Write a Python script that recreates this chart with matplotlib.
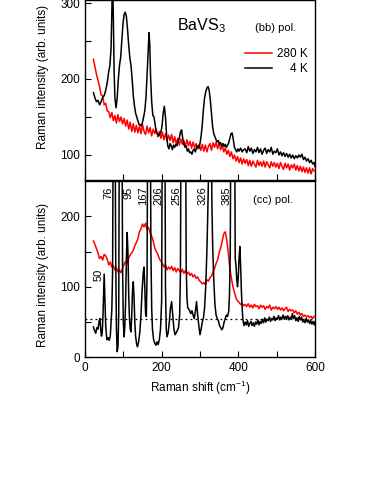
import numpy as np
import matplotlib
matplotlib.use("Agg")
import matplotlib.pyplot as plt
from matplotlib.ticker import MultipleLocator

plt.rcParams['font.family'] = ['Liberation Sans', 'DejaVu Sans']
plt.rcParams['mathtext.fontset'] = 'custom'
plt.rcParams['mathtext.rm'] = 'Liberation Sans'
plt.rcParams['mathtext.it'] = 'Liberation Sans:italic'
plt.rcParams['mathtext.default'] = 'regular'

# ---- (bb) polarisation, 280 K (sampled every 4 cm-1 from 22 to 598)
bb_hot_x = np.arange(22, 599, 4)
bb_hot_y = [
    226, 216, 206, 198, 190, 179, 178, 166, 168, 158,
    157, 149, 156, 145, 152, 142, 153, 144, 150, 141,
    148, 138, 146, 134, 143, 131, 141, 130, 139, 129,
    138, 128, 140, 131, 127, 138, 129, 136, 125, 134,
    128, 134, 124, 131, 122, 130, 120, 128, 119, 126,
    119, 127, 116, 124, 115, 122, 113, 121, 114, 119,
    111, 120, 112, 118, 109, 117, 110, 115, 108, 114,
    106, 114, 105, 113, 104, 111, 115, 106, 116, 110,
    117, 108, 116, 107, 113, 104, 109, 101, 106, 98,
    104, 95, 100, 92, 98, 90, 96, 88, 95, 89,
    94, 86, 93, 85, 92, 88, 84, 93, 86, 91,
    85, 92, 84, 91, 87, 83, 91, 85, 90, 84,
    89, 82, 90, 85, 81, 89, 83, 88, 80, 87,
    83, 88, 80, 86, 79, 85, 78, 84, 77, 83,
    76, 83, 75, 82, 79,
]

# ---- (bb) polarisation, 4 K
bb_cold_x = [
    22, 26, 30, 34, 38, 42, 46, 50, 54, 58, 62, 65, 68, 70, 72, 74, 76, 78,
    81, 84, 87, 90, 93, 96, 99, 102, 105, 108, 111, 114, 117, 120, 123, 126,
    129, 132, 135, 138, 141, 144, 147, 150, 153, 156, 159, 162, 165, 167,
    169, 171, 174, 177, 180, 183, 186, 189, 192, 195, 198, 201, 204, 207,
    210, 213, 216, 219, 222, 225, 228, 231, 234, 237, 240, 243, 246, 249,
    252, 255, 258, 261, 264, 267, 270, 273, 276, 279, 282, 285, 288, 291,
    294, 297, 300, 303, 306, 309, 312, 315, 318, 321, 324, 327, 330, 333,
    336, 339, 342, 345, 348, 351, 354, 357, 360, 363, 366, 369, 372, 375,
    378, 381, 384, 387, 390, 393, 396, 399, 402, 406, 410, 414, 418, 422,
    426, 430, 434, 438, 442, 446, 450, 454, 458, 462, 466, 470, 474, 478,
    482, 486, 490, 494, 498, 502, 506, 510, 514, 518, 522, 526, 530, 534,
    538, 542, 546, 550, 554, 558, 562, 566, 570, 574, 578, 582, 586, 590,
    594, 598, 600,
]
bb_cold_y = [
    182, 175, 170, 172, 166, 170, 176, 178, 185, 195, 210, 218, 240, 290, 330, 280, 210, 175,
    162, 175, 200, 218, 228, 250, 272, 285, 288, 282, 265, 245, 228, 218, 200, 178,
    165, 155, 150, 145, 140, 140, 138, 143, 150, 158, 175, 205, 240, 261,
    245, 205, 170, 152, 150, 140, 130, 128, 125, 128, 130, 138, 155, 164,
    150, 125, 112, 108, 115, 112, 107, 113, 110, 114, 112, 118, 122, 130,
    133, 122, 114, 110, 112, 105, 108, 103, 104, 101, 106, 108, 104, 110,
    112, 109, 115, 125, 140, 160, 175, 183, 188, 190, 185, 172, 155, 137,
    128, 124, 120, 117, 119, 114, 116, 112, 115, 111, 114, 110, 113, 116,
    122, 128, 129, 120, 110, 107, 104, 108, 105, 109, 104, 107, 108, 103,
    111, 105, 109, 102, 107, 104, 110, 103, 108, 101, 106, 109, 102, 107,
    104, 110, 101, 105, 103, 108, 100, 104, 99, 103, 98, 102, 97, 101,
    96, 100, 95, 99, 96, 100, 97, 101, 94, 97, 92, 95, 90, 93,
    88, 90, 85,
]

# ---- (cc) polarisation, 280 K (sampled every 4 cm-1 from 22 to 598)
cc_hot_x = np.arange(22, 599, 4)
cc_hot_y = [
    165, 160, 154, 148, 140, 143, 138, 146, 144, 139,
    131, 135, 128, 130, 124, 127, 121, 124, 120, 126,
    132, 136, 133, 141, 145, 148, 152, 158, 163, 168,
    178, 182, 189, 185, 190, 181, 184, 176, 172, 165,
    155, 150, 146, 140, 136, 133, 128, 131, 124, 128,
    125, 129, 123, 127, 121, 126, 123, 120, 125, 119,
    123, 118, 121, 116, 119, 114, 117, 112, 114, 109,
    107, 104, 106, 103, 110, 108, 113, 115, 121, 126,
    133, 138, 148, 155, 165, 175, 178, 166, 148, 126,
    112, 100, 92, 84, 80, 78, 75, 76, 73, 75,
    72, 76, 71, 74, 70, 75, 72, 73, 69, 74,
    71, 73, 68, 72, 70, 74, 67, 71, 69, 72,
    68, 71, 67, 70, 66, 69, 71, 65, 68, 66,
    67, 63, 66, 61, 64, 60, 62, 58, 60, 57,
    59, 56, 58, 55, 58,
]

# ---- (cc) polarisation, 4 K (strong phonons run off scale)
cc_cold_x = [
    22, 25, 28, 31, 34, 37, 39, 41, 43, 45, 47, 50, 52, 54, 57, 60, 63, 66,
    68, 70, 72, 74, 78, 80, 82, 84, 86, 88, 90, 96, 98, 100, 102, 104, 106,
    108, 110, 112, 114, 116, 118, 120, 122, 124, 126, 128, 130, 132, 135,
    137, 140, 143, 146, 149, 152, 154, 156, 158, 160, 162, 164, 170, 172,
    174, 176, 179, 182, 185, 188, 191, 194, 197, 200, 202, 208, 210, 212,
    214, 217, 220, 223, 226, 229, 232, 235, 238, 241, 244, 247, 249, 251,
    262, 264, 266, 268, 270, 273, 276, 279, 282, 285, 288, 291, 294, 297,
    300, 303, 306, 309, 312, 315, 318, 320, 322, 324, 329, 331, 333, 336,
    339, 342, 345, 348, 351, 354, 357, 360, 363, 366, 369, 372, 375, 377,
    379, 381, 390, 392, 394, 396, 398, 400, 402, 404, 406, 408, 410, 412,
    415, 418, 421, 424, 427, 430, 433, 436, 439, 442, 445, 448, 451, 454,
    457, 460, 463, 466, 469, 472, 475, 478, 481, 484, 487, 490, 493, 496,
    499, 502, 505, 508, 511, 514, 517, 520, 523, 526, 529, 532, 535, 538,
    541, 544, 547, 550, 553, 556, 559, 562, 565, 568, 571, 574, 577, 580,
    583, 586, 589, 592, 595, 598, 600,
]
cc_cold_y = [
    43, 38, 34, 42, 40, 52, 55, 40, 30, 35, 60, 118, 80, 45, 25, 28, 24, 30,
    50, 67, 120, 400, 400, 150, 40, 8, 15, 60, 400, 400, 130, 50, 29, 45, 80,
    140, 177, 150, 90, 55, 40, 36, 60, 95, 107, 85, 50, 30, 18,
    15, 22, 35, 60, 95, 120, 128, 100, 62, 58, 120, 400, 400, 150,
    70, 40, 25, 20, 17, 22, 18, 25, 40, 80, 400, 400, 100, 40,
    29, 35, 50, 70, 79, 60, 40, 32, 35, 38, 42, 60, 120, 400,
    400, 130, 85, 70, 69, 66, 62, 66, 60, 55, 65, 79, 60, 45,
    32, 40, 50, 56, 70, 100, 150, 195, 250, 400, 400, 220, 160, 110,
    75, 60, 55, 52, 45, 42, 39, 42, 50, 55, 60, 58, 65, 90,
    150, 400, 400, 140, 130, 110, 100, 115, 140, 157, 130, 95, 70, 53,
    45, 50, 46, 52, 44, 48, 51, 45, 49, 44, 50, 47, 53, 46,
    51, 48, 54, 49, 56, 50, 54, 52, 57, 51, 55, 53, 58, 52,
    56, 54, 59, 53, 57, 55, 60, 54, 58, 55, 59, 53, 57, 54,
    62, 55, 59, 52, 56, 51, 58, 53, 57, 50, 54, 49, 55, 50,
    53, 48, 52, 47, 51, 46, 50,
]

# ---- phonon labels in (cc) panel and the 4 K background level
peak_labels = ["50", "76", "95", "167", "206", "256", "326", "385"]
peak_label_x = [35, 61, 113, 152, 191, 239, 306, 370]
cc_baseline = 54

RED = "#ff0000"
FS = 8.5
LW = 1.1


def style_axis(ax):
    ax.set_xlim(0, 600)
    ax.tick_params(which="both", direction="in", length=4, width=0.8,
                   labelsize=FS, top=False, right=False)
    for sp in ax.spines.values():
        sp.set_linewidth(1.0)


fig = plt.figure(figsize=(3.82, 4.94), dpi=100)
ax_bb = fig.add_axes([0.2225, 0.6356, 0.602, 0.3644])
ax_cc = fig.add_axes([0.2225, 0.2767, 0.602, 0.3569])

# top panel: (bb)
ax_bb.plot(bb_hot_x, bb_hot_y, color=RED, lw=LW, label="280 K")
ax_bb.plot(bb_cold_x, bb_cold_y, color="black", lw=LW, label="    4 K")
style_axis(ax_bb)
ax_bb.set_ylim(67, 304)
ax_bb.yaxis.set_major_locator(MultipleLocator(100))
ax_bb.yaxis.set_minor_locator(MultipleLocator(50))
ax_bb.xaxis.set_major_locator(MultipleLocator(100))
ax_bb.tick_params(axis="x", labelbottom=False)
ax_bb.set_ylabel("Raman intensity (arb. units)", fontsize=FS)
ax_bb.yaxis.set_label_coords(-0.155, 0.57)
ax_bb.text(0.40, 0.86, "BaVS$_3$", transform=ax_bb.transAxes,
           fontsize=11.5, ha="left", va="center")
ax_bb.text(0.74, 0.845, "(bb) pol.", transform=ax_bb.transAxes,
           fontsize=8, ha="left", va="center")
ax_bb.legend(loc="upper right", bbox_to_anchor=(1.0, 0.77), frameon=False,
             fontsize=FS, handlelength=2.3, handletextpad=0.4,
             labelspacing=0.25, borderaxespad=0.2)

# bottom panel: (cc)
ax_cc.plot(cc_hot_x, cc_hot_y, color=RED, lw=LW)
ax_cc.plot(cc_cold_x, cc_cold_y, color="black", lw=LW)
ax_cc.axhline(cc_baseline, color="black", lw=0.9, ls=(0, (1.5, 2.5)))
style_axis(ax_cc)
ax_cc.set_ylim(0, 250)
ax_cc.yaxis.set_major_locator(MultipleLocator(100))
ax_cc.yaxis.set_minor_locator(MultipleLocator(50))
ax_cc.xaxis.set_major_locator(MultipleLocator(200))
ax_cc.xaxis.set_minor_locator(MultipleLocator(100))
ax_cc.set_ylabel("Raman intensity (arb. units)", fontsize=FS)
ax_cc.yaxis.set_label_coords(-0.155, 0.47)
ax_cc.set_xlabel("Raman shift (cm$^{-1}$)", fontsize=FS, labelpad=3)
ax_cc.text(0.73, 0.89, "(cc) pol.", transform=ax_cc.transAxes,
           fontsize=8, ha="left", va="center")
for lab, xl in zip(peak_labels, peak_label_x):
    ytop = 125 if lab == "50" else 242
    ax_cc.text(xl, ytop, lab, rotation=90, fontsize=8,
               ha="center", va="top")

fig.savefig("out.png", dpi=100)
